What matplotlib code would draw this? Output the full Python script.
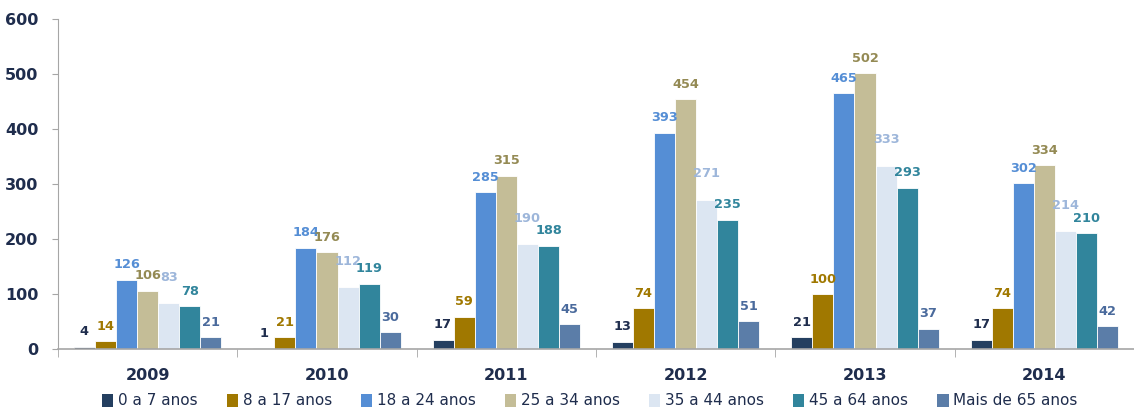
import numpy as np
import matplotlib.pyplot as plt
from matplotlib.patches import Patch

# dados
anos = ['2009', '2010', '2011', '2012', '2013', '2014']
faixas = ['0 a 7 anos', '8 a 17 anos', '18 a 24 anos', '25 a 34 anos',
          '35 a 44 anos', '45 a 64 anos', 'Mais de 65 anos']
v_0_7 = [4, 1, 17, 13, 21, 17]
v_8_17 = [14, 21, 59, 74, 100, 74]
v_18_24 = [126, 184, 285, 393, 465, 302]
v_25_34 = [106, 176, 315, 454, 502, 334]
v_35_44 = [83, 112, 190, 271, 333, 214]
v_45_64 = [78, 119, 188, 235, 293, 210]
v_65 = [21, 30, 45, 51, 37, 42]
series = [v_0_7, v_8_17, v_18_24, v_25_34, v_35_44, v_45_64, v_65]

cores = ['#243F60', '#A07800', '#558ED5', '#C4BD97', '#DCE6F2', '#31859C', '#5B7DA8']
cores_txt = ['#1F2D4D', '#A07800', '#558ED5', '#948A54', '#9DB6DA', '#31859C', '#4A6A9C']
# distancia do rotulo ao topo da barra (pontos); 35-44 fica mais alto no original
desloc = [6, 6, 6, 6, 14, 6, 6]
navy = '#1F2D4D'

fig = plt.figure(figsize=(11.34, 4.12), dpi=100)
ax = fig.add_axes([0.0511, 0.153, 0.9489, 0.801])

x = np.arange(len(anos))
largura_grupo = 0.823
w = largura_grupo / len(series)

for i, (vals, c, ct) in enumerate(zip(series, cores, cores_txt)):
    pos = x - largura_grupo / 2 + w * (i + 0.5)
    bars = ax.bar(pos, vals, width=w, color=c, edgecolor='white', linewidth=0.6)
    for b, v in zip(bars, vals):
        ax.annotate(str(v), (b.get_x() + b.get_width() / 2, v),
                    xytext=(0, desloc[i]), textcoords='offset points',
                    ha='center', va='bottom', fontsize=9.3,
                    fontweight='bold', color=ct)

ax.set_xlim(-0.5, len(anos) - 0.5)
ax.set_ylim(0, 600)
ax.set_yticks(range(0, 601, 100))
ax.set_xticks(x)
ax.set_xticklabels(anos)
ax.set_xticks(np.arange(-0.5, len(anos)), minor=True)
ax.tick_params(axis='x', which='major', length=0, pad=14,
               labelsize=11.5, labelcolor=navy)
ax.tick_params(axis='x', which='minor', length=6, color='#A6A6A6', direction='out')
ax.tick_params(axis='y', length=4, color='#A6A6A6', labelsize=11.5,
               labelcolor=navy, pad=10)
for lab in ax.get_xticklabels() + ax.get_yticklabels():
    lab.set_fontweight('bold')

ax.spines['top'].set_visible(False)
ax.spines['right'].set_visible(False)
ax.spines['left'].set_color('#A6A6A6')
ax.spines['bottom'].set_color('#A6A6A6')
ax.spines['bottom'].set_linewidth(1.2)

handles = [Patch(facecolor=c, edgecolor='none') for c in cores]
fig.legend(handles, faixas, loc='center', bbox_to_anchor=(0.52, 0.027),
           ncol=7, frameon=False, fontsize=11, handlelength=0.75,
           handleheight=0.95, handletextpad=0.3, columnspacing=1.9,
           labelcolor=navy)

fig.savefig('out.png', dpi=100)
